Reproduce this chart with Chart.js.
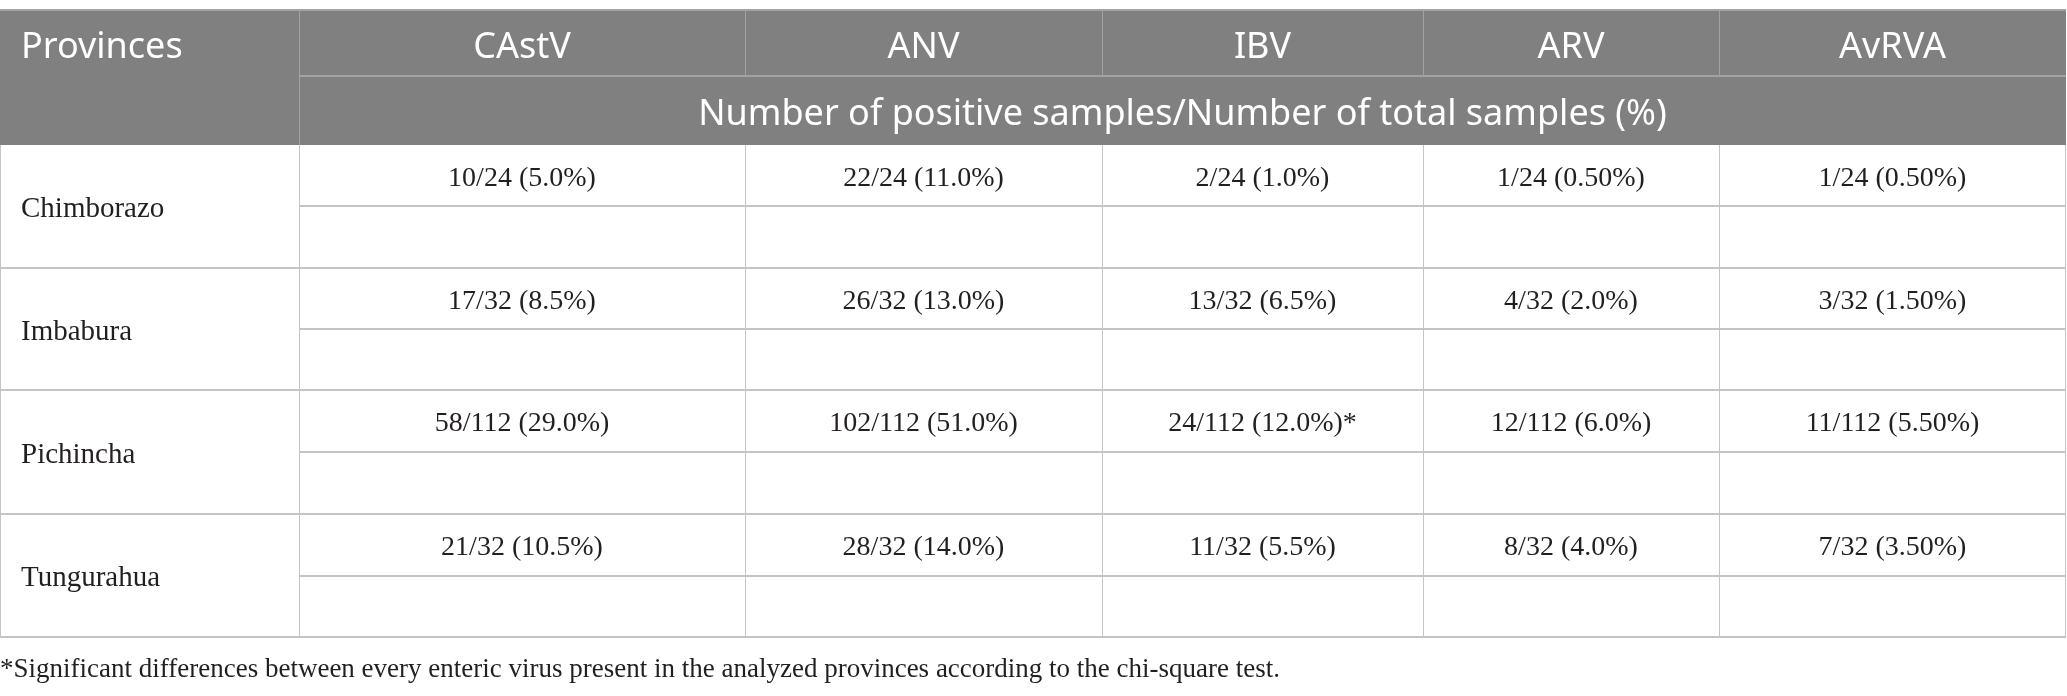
<!DOCTYPE html>
<html>
<head>
<meta charset="utf-8">
<script src="https://cdn.jsdelivr.net/npm/chart.js@4/dist/chart.umd.min.js"></script>
<style>
  html, body { margin: 0; padding: 0; background: #fff; overflow: hidden; }
  canvas { display: block; }
</style>
</head>
<body>
<canvas id="table" width="2067" height="696"></canvas>
<script>
// table content
var provinces = ['Chimborazo', 'Imbabura', 'Pichincha', 'Tungurahua'];
var viruses = ['CAstV', 'ANV', 'IBV', 'ARV', 'AvRVA'];
var castv = ['10/24 (5.0%)', '17/32 (8.5%)', '58/112 (29.0%)', '21/32 (10.5%)'];
var anv = ['22/24 (11.0%)', '26/32 (13.0%)', '102/112 (51.0%)', '28/32 (14.0%)'];
var ibv = ['2/24 (1.0%)', '13/32 (6.5%)', '24/112 (12.0%)*', '11/32 (5.5%)'];
var arv = ['1/24 (0.50%)', '4/32 (2.0%)', '12/112 (6.0%)', '8/32 (4.0%)'];
var avrva = ['1/24 (0.50%)', '3/32 (1.50%)', '11/112 (5.50%)', '7/32 (3.50%)'];
var firstHeader = 'Provinces';
var subHeader = 'Number of positive samples/Number of total samples (%)';
var footnote = '*Significant differences between every enteric virus present in the analyzed provinces according to the chi-square test.';

// layout, in units of the x / y scales
var colEdges = [0, 299, 745, 1102, 1423, 1719, 2066];
var headTop = 10, headMid = 76, headBottom = 145;
var rowEdges = [145, 268, 390, 514, 637];
var textInset = 21;
var noteY = 670;

var headFont = '36px "Noto Sans"';
var bodyFont = '28px "Liberation Serif"';
var nameFont = '29px "Liberation Serif"';
var noteFont = '27px "Liberation Serif"';
var headBg = '#808080';
var headLine = '#a3a3a3';
var gridLine = '#c4c4c4';
var textColor = '#231f20';

function colCenter(c) { return (colEdges[c] + colEdges[c + 1]) / 2; }
function rowMid(r) { return (rowEdges[r] + rowEdges[r + 1]) / 2; }

var columns = [castv, anv, ibv, arv, avrva];

var datasets = columns.map(function (vals, j) {
    return {
        label: viruses[j],
        textAlign: 'center',
        font: bodyFont,
        data: vals.map(function (v, i) {
            return { x: colCenter(j + 1), y: (rowEdges[i] + rowMid(i)) / 2 + 3, text: v };
        })
    };
});
datasets.unshift({
    label: firstHeader,
    textAlign: 'left',
    font: nameFont,
    data: provinces.map(function (p, i) {
        return { x: colEdges[0] + textInset, y: rowMid(i) + 3, text: p };
    })
});

var tablePlugin = {
    id: 'tableGrid',
    beforeDatasetsDraw: function (chart) {
        var ctx = chart.ctx;
        var sx = chart.scales.x, sy = chart.scales.y;
        function px(v) { return sx.getPixelForValue(v); }
        function py(v) { return sy.getPixelForValue(v); }
        function hline(x1, x2, yv, color, w) {
            ctx.strokeStyle = color;
            ctx.lineWidth = w;
            ctx.beginPath();
            ctx.moveTo(px(x1), Math.round(py(yv)));
            ctx.lineTo(px(x2), Math.round(py(yv)));
            ctx.stroke();
        }
        function vline(xv, y1, y2, color, w) {
            ctx.strokeStyle = color;
            ctx.lineWidth = w;
            ctx.beginPath();
            ctx.moveTo(Math.round(px(xv)) + 0.5, py(y1));
            ctx.lineTo(Math.round(px(xv)) + 0.5, py(y2));
            ctx.stroke();
        }
        var last = colEdges.length - 1;
        ctx.save();
        ctx.fillStyle = headBg;
        ctx.fillRect(px(colEdges[0]), py(headTop), px(colEdges[last]) - px(colEdges[0]), py(headBottom) - py(headTop));
        hline(colEdges[0], colEdges[last], headTop, headLine, 2);
        vline(colEdges[1], headTop, headBottom, headLine, 1);
        for (var c = 2; c < last; c++) vline(colEdges[c], headTop, headMid, headLine, 1);
        hline(colEdges[1], colEdges[last], headMid, headLine, 2);

        // body grid
        for (var r = 0; r < provinces.length; r++) {
            hline(colEdges[1], colEdges[last], rowMid(r), gridLine, 2);
            hline(colEdges[0], colEdges[last], rowEdges[r + 1], gridLine, 2);
        }
        vline(colEdges[0], headBottom, rowEdges[rowEdges.length - 1], gridLine, 1);
        for (var k = 1; k <= last; k++) {
            vline(colEdges[k] - (k === last ? 1 : 0), headBottom, rowEdges[rowEdges.length - 1], gridLine, 1);
        }
        ctx.restore();
    },
    afterDatasetsDraw: function (chart) {
        var ctx = chart.ctx;
        var sx = chart.scales.x, sy = chart.scales.y;
        var headY1 = (headTop + headMid) / 2 + 5;
        var headY2 = (headMid + headBottom) / 2 + 4;
        ctx.save();
        ctx.textBaseline = 'middle';

        // header texts
        ctx.fillStyle = '#ffffff';
        ctx.font = headFont;
        ctx.textAlign = 'left';
        ctx.fillText(firstHeader, sx.getPixelForValue(colEdges[0] + textInset), sy.getPixelForValue(headY1));
        ctx.textAlign = 'center';
        viruses.forEach(function (v, j) {
            ctx.fillText(v, sx.getPixelForValue(colCenter(j + 1)), sy.getPixelForValue(headY1));
        });
        ctx.fillText(subHeader, sx.getPixelForValue((colEdges[1] + colEdges[colEdges.length - 1]) / 2),
            sy.getPixelForValue(headY2));

        // cell texts, placed at the points the scatter datasets produced
        ctx.fillStyle = textColor;
        chart.data.datasets.forEach(function (ds, di) {
            var meta = chart.getDatasetMeta(di);
            ctx.textAlign = ds.textAlign;
            ctx.font = ds.font;
            meta.data.forEach(function (pt, k) {
                ctx.fillText(ds.data[k].text, pt.x, pt.y);
            });
        });

        // footnote
        ctx.font = noteFont;
        ctx.textAlign = 'left';
        ctx.fillText(footnote, sx.getPixelForValue(colEdges[0]), sy.getPixelForValue(noteY));
        ctx.restore();
    }
};

function build() {
    new Chart(document.getElementById('table'), {
        type: 'scatter',
        data: { datasets: datasets },
        options: {
            responsive: false,
            devicePixelRatio: 1,
            animation: false,
            layout: { padding: 0 },
            elements: { point: { radius: 0, hoverRadius: 0 } },
            scales: {
                x: { type: 'linear', min: 0, max: 2067, display: false },
                y: { type: 'linear', min: 0, max: 696, reverse: true, display: false }
            },
            plugins: {
                legend: { display: false },
                tooltip: { enabled: false }
            },
            events: []
        },
        plugins: [tablePlugin]
    });
}

Promise.all([
    document.fonts.load(headFont),
    document.fonts.load(bodyFont),
    document.fonts.load(nameFont),
    document.fonts.load(noteFont)
]).then(build, build);
</script>
</body>
</html>
